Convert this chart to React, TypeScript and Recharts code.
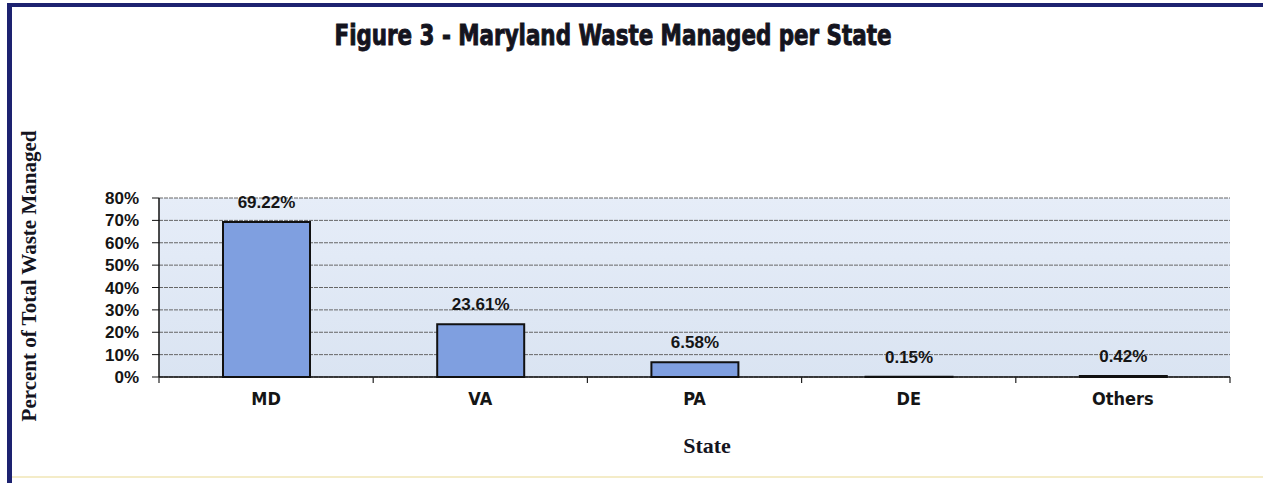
import React from 'react';
import { BarChart, Bar, XAxis, YAxis, CartesianGrid, LabelList } from 'recharts';

const states = ['MD', 'VA', 'PA', 'DE', 'Others'];
const percentManaged = [69.22, 23.61, 6.58, 0.15, 0.42];
const yTicks = [0, 10, 20, 30, 40, 50, 60, 70, 80];

const data = states.map((state, i) => ({ state, value: percentManaged[i] }));

const W = 1263;
const H = 483;
const margin = { top: 198, right: 33, bottom: 66, left: 0 };
const Y_AXIS_W = 159;
const X_AXIS_H = 40;
const plotW = W - margin.left - margin.right - Y_AXIS_W;
const band = plotW / states.length;

const narrow = "'Liberation Sans Narrow', 'DejaVu Sans Condensed', 'Arial Narrow', sans-serif";
const sans = "'Liberation Sans', Arial, sans-serif";
const serif = "'Liberation Serif', 'Times New Roman', serif";

// category label plus tick marks on the band edges (Excel style)
const CategoryTick = ({ x, y, payload, index }: any) => (
  <g>
    <line x1={x - band / 2} x2={x - band / 2} y1={y - 6} y2={y} stroke="#222" strokeWidth={1.2} />
    {index === states.length - 1 && (
      <line x1={x + band / 2} x2={x + band / 2} y1={y - 6} y2={y} stroke="#222" strokeWidth={1.2} />
    )}
    <text
      x={x}
      y={y + 22}
      textAnchor="middle"
      fontFamily={narrow}
      fontWeight="bold"
      fontSize={18}
      fill="#151515"
    >
      {payload.value}
    </text>
  </g>
);

export default function App() {
  return (
    <div style={{ position: 'fixed', left: 0, top: 0, width: W, height: H, background: '#fff' }}>
      <BarChart width={W} height={H} data={data} margin={margin}>
        <defs>
          <linearGradient id="plotBg" x1="0" y1="0" x2="0" y2="1">
            <stop offset="0%" stopColor="#e6edf8" />
            <stop offset="100%" stopColor="#dae4f2" />
          </linearGradient>
        </defs>
        <CartesianGrid
          yAxisId="left"
          vertical={false}
          fill="url(#plotBg)"
          fillOpacity={1}
          stroke="#666"
          strokeDasharray="4 1"
        />
        <XAxis
          dataKey="state"
          height={X_AXIS_H}
          interval={0}
          tickLine={false}
          tickSize={6}
          tickMargin={0}
          axisLine={{ stroke: '#111', strokeWidth: 1.5 }}
          tick={<CategoryTick />}
        />
        <YAxis
          yAxisId="left"
          width={Y_AXIS_W}
          domain={[0, 80]}
          ticks={yTicks}
          interval={0}
          tickSize={7}
          tickMargin={13}
          tickLine={{ stroke: '#111' }}
          axisLine={{ stroke: '#111', strokeWidth: 1.5 }}
          tickFormatter={(v) => `${v}%`}
          tick={{ fill: '#151515', fontSize: 17, fontWeight: 'bold', fontFamily: sans }}
        />
        <YAxis
          yAxisId="right"
          orientation="right"
          width={0}
          domain={[0, 80]}
          tick={false}
          tickLine={false}
          axisLine={{ stroke: '#555', strokeWidth: 1 }}
        />
        <Bar
          yAxisId="left"
          dataKey="value"
          barSize={87}
          fill="#7f9fe0"
          stroke="#111"
          strokeWidth={2}
          isAnimationActive={false}
        >
          <LabelList
            dataKey="value"
            position="top"
            offset={14}
            formatter={(v: any) => `${Number(v).toFixed(2)}%`}
            fill="#151515"
            fontSize={17}
            fontWeight="bold"
            fontFamily={sans}
          />
        </Bar>
      </BarChart>

      <svg
        width={W}
        height={H}
        style={{ position: 'absolute', left: 0, top: 0, pointerEvents: 'none' }}
      >
        <rect x={7} y={3} width={W - 7} height={4} fill="#1d2270" />
        <rect x={7} y={3} width={5} height={H - 3} fill="#1d2270" />
        <rect x={12} y={476} width={W - 12} height={2} fill="#f4ecc8" />
        <text
          x={613}
          y={45}
          textAnchor="middle"
          fontFamily={narrow}
          fontWeight="bold"
          fontSize={28}
          textLength={557}
          lengthAdjust="spacingAndGlyphs"
          fill="#14141e"
          stroke="#14141e"
          strokeWidth={0.9}
        >
          Figure 3 - Maryland Waste Managed per State
        </text>
        <text
          x={0}
          y={0}
          transform="translate(36, 276) rotate(-90)"
          textAnchor="middle"
          fontFamily={serif}
          fontWeight="bold"
          fontSize={21}
          fill="#14141e"
        >
          Percent of Total Waste Managed
        </text>
        <text
          x={707}
          y={453}
          textAnchor="middle"
          fontFamily={serif}
          fontWeight="bold"
          fontSize={22}
          fill="#14141e"
        >
          State
        </text>
      </svg>
    </div>
  );
}
